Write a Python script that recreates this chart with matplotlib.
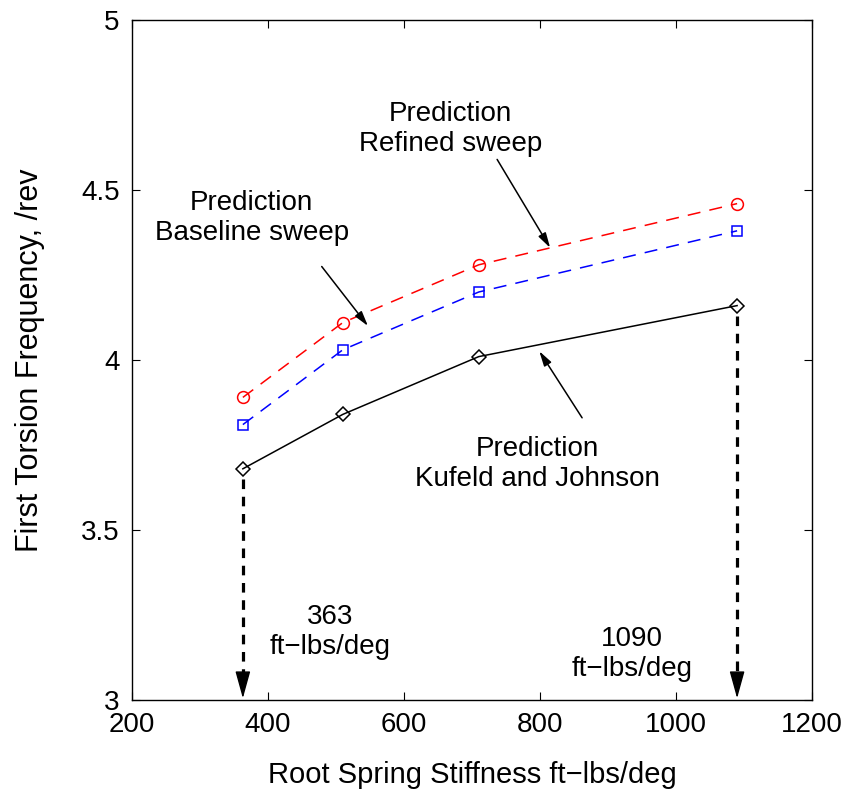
"""First torsion frequency vs root spring stiffness (MATLAB-style figure)."""

import matplotlib

matplotlib.use("Agg")
import matplotlib.pyplot as plt  # noqa: E402

plt.rcParams["font.family"] = ["Liberation Sans", "DejaVu Sans"]

stiffness = [363, 510, 710, 1090]
refined = [3.89, 4.11, 4.28, 4.46]
baseline = [3.81, 4.03, 4.20, 4.38]
kufeld = [3.68, 3.84, 4.01, 4.16]

xticks = [200, 400, 600, 800, 1000, 1200]
yticks = [3, 3.5, 4, 4.5, 5]
yticklabels = ["3", "3.5", "4", "4.5", "5"]

fig = plt.figure(figsize=(8.53, 7.94), dpi=100)
ax = fig.add_axes([0.1548, 0.1184, 0.797, 0.8564])

ax.plot(stiffness, refined, "r--o", lw=1.1, ms=8.5, mfc="none", mew=1.1,
        dashes=(8.5, 6))
ax.plot(stiffness, baseline, "b--s", lw=1.1, ms=7.5, mfc="none", mew=1.1,
        dashes=(8.5, 6))
ax.plot(stiffness, kufeld, "k-D", lw=1.1, ms=7.5, mfc="none", mew=1.1)

# thick dashed drop lines to the axis, solid head at the bottom
for xv, yv in [(stiffness[0], kufeld[0]), (stiffness[-1], kufeld[-1])]:
    ax.plot([xv, xv], [yv - 0.03, 3.08], color="k", lw=2.3,
            dashes=(3, 2.4))
    ax.annotate("", xy=(xv, 3.005), xytext=(xv, 3.08),
                arrowprops=dict(arrowstyle="-|>,head_length=1.7,head_width=0.47",
                                lw=1.0, color="k", shrinkA=0, shrinkB=0))

arrow = dict(arrowstyle="-|>,head_length=0.9,head_width=0.25", lw=1.1,
             color="k", shrinkA=0, shrinkB=0)
ax.annotate("", xy=(815, 4.33), xytext=(737, 4.59), arrowprops=arrow)
ax.annotate("", xy=(547, 4.10), xytext=(479, 4.275), arrowprops=arrow)
ax.annotate("", xy=(799, 4.026), xytext=(862, 3.83), arrowprops=arrow)

tkw = dict(ha="center", va="center", fontsize=20, linespacing=1.2)
ax.text(668, 4.68, "Prediction\nRefined sweep", **tkw)
ax.text(376, 4.418, "Prediction\nBaseline sweep", **tkw)
ax.text(796, 3.694, "Prediction\nKufeld and Johnson", **tkw)
ax.text(491, 3.20, "363\nft\u2212lbs/deg", **tkw)
ax.text(935, 3.135, "1090\nft\u2212lbs/deg", **tkw)

ax.set_xlim(200, 1200)
ax.set_ylim(3, 5)
ax.set_xticks(xticks)
ax.set_yticks(yticks)
ax.set_yticklabels(yticklabels)
ax.tick_params(direction="in", length=6, width=0.8, labelsize=20,
               top=True, right=True)
ax.tick_params(axis="x", pad=9)
ax.tick_params(axis="y", pad=9)
for sp in ax.spines.values():
    sp.set_linewidth(1.0)

ax.set_xlabel("Root Spring Stiffness ft\u2212lbs/deg", fontsize=21,
              labelpad=16)
ax.set_ylabel("First Torsion Frequency, /rev", fontsize=22, labelpad=26)

fig.savefig("out.png", dpi=100)
